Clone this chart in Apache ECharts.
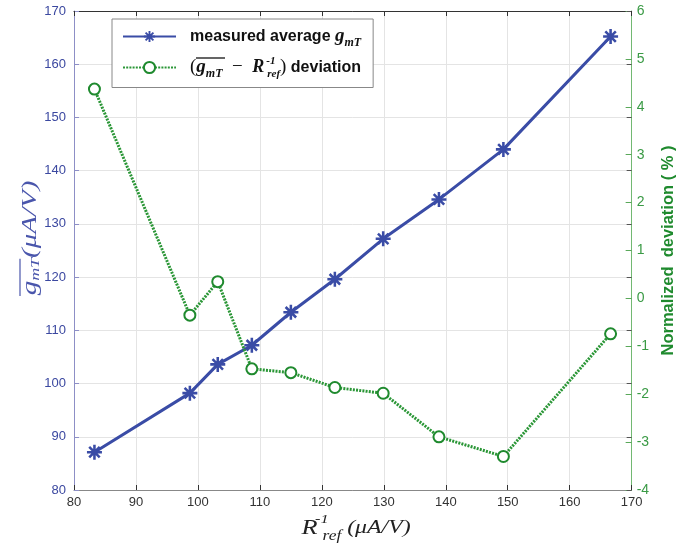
<!DOCTYPE html>
<html>
<head>
<meta charset="utf-8">
<script src="https://cdn.jsdelivr.net/npm/echarts@6/dist/echarts.min.js"></script>
<style>html,body{margin:0;padding:0;background:#fff}#c{width:685px;height:550px}</style>
</head>
<body>
<div id="c"></div>
<script>
// Data
const rRef = [83.3, 98.7, 103.2, 108.7, 115.0, 122.1, 129.9, 138.9, 149.3, 166.6];
const gmTAvg = [87.1, 98.2, 103.6, 107.2, 113.4, 119.6, 127.2, 134.6, 144.0, 165.2];
const deviation = [4.37, -0.35, 0.35, -1.47, -1.55, -1.86, -1.98, -2.89, -3.30, -0.74];
const seriesNames = ['measured average gmT', 'gmT - Rref deviation'];

const BLUE = '#3a4ca6';
const GREEN = '#1f8a2e';
const asterisk = 'path://M0 8.3L20 8.3L20 11.7L0 11.7Z M8.3 0L11.7 0L11.7 20L8.3 20Z M4.2 1.8L18.2 15.8L15.8 18.2L1.8 4.2Z M15.8 1.8L18.2 4.2L4.2 18.2L1.8 15.8Z';

const chart = echarts.init(document.getElementById('c'));
const serifI = 'Liberation Serif';
chart.setOption({
  animation: false,
  grid: { left: 74, right: 48, top: 11, bottom: 60 },
  xAxis: [{
    type: 'value', min: 80, max: 170, interval: 10, position: 'bottom',
    axisLine: { onZero: false, lineStyle: { color: '#888', width: 1 } },
    axisTick: { inside: true, length: 5, lineStyle: { color: '#333' } },
    axisLabel: { color: '#333', fontSize: 13, fontFamily: 'Liberation Sans', margin: 6 },
    splitLine: { show: true, lineStyle: { color: '#e4e4e4', width: 1 } }
  }, {
    type: 'value', min: 80, max: 170, interval: 10, position: 'top',
    axisLine: { onZero: false, lineStyle: { color: '#333', width: 1 } },
    axisTick: { inside: true, length: 5, lineStyle: { color: '#333' } },
    axisLabel: { show: false }, splitLine: { show: false }
  }],
  yAxis: [{
    type: 'value', min: 80, max: 170, interval: 10, position: 'left',
    axisLine: { show: true, onZero: false, lineStyle: { color: '#8d8fc6', width: 1 } },
    axisTick: { show: true, inside: true, length: 5, lineStyle: { color: '#8d8fc6' } },
    axisLabel: { color: '#3b48a0', fontSize: 13, fontFamily: 'Liberation Sans', margin: 8 },
    splitLine: { show: true, lineStyle: { color: '#e4e4e4', width: 1 } }
  }, {
    type: 'value', min: -4, max: 6, interval: 1, position: 'right',
    axisLine: { show: true, onZero: false, lineStyle: { color: '#72b872', width: 1 } },
    axisTick: { show: true, inside: true, length: 6, lineStyle: { color: '#5aa85a' } },
    axisLabel: { color: '#3a9a45', fontSize: 14, fontFamily: 'Liberation Sans', margin: 5 },
    splitLine: { show: false },
    name: 'Normalized  deviation ( % )', nameLocation: 'middle', nameGap: 24, nameRotate: 90,
    nameTextStyle: { color: GREEN, fontSize: 16.5, fontWeight: 'bold', fontFamily: 'Liberation Sans' }
  }, {
    type: 'value', min: 80, max: 170, interval: 10, position: 'right',
    axisLine: { show: false, onZero: false },
    axisTick: { show: true, inside: true, length: 5, lineStyle: { color: '#555' } },
    axisLabel: { show: false }, splitLine: { show: false }
  }],
  legend: {
    orient: 'vertical', left: 112, top: 19,
    padding: [8, 12, 8, 10], itemGap: 7,
    itemWidth: 53, itemHeight: 14,
    backgroundColor: '#fff', borderColor: '#888', borderWidth: 1, borderRadius: 0,
    data: seriesNames,
    formatter: function (name) {
      if (name === seriesNames[0]) return '{b|measured average }{gi|g}{sub|mT}';
      return '{p|(}{gi|g}{sub|mT}{p|  \u2212  }{ri|R}{sup|-1}{sub2|ref}{p|)}{b| deviation}';
    },
    textStyle: {
      padding: [0, 0, 0, 9],
      rich: {
        b: { fontFamily: 'Liberation Sans', fontWeight: 'bold', fontSize: 16, color: '#111', lineHeight: 24, verticalAlign: 'middle' },
        p: { fontFamily: serifI, fontSize: 19, color: '#111', lineHeight: 24, verticalAlign: 'middle' },
        gi: { fontFamily: serifI, fontStyle: 'italic', fontWeight: 'bold', fontSize: 19, color: '#111', lineHeight: 24, verticalAlign: 'middle' },
        ri: { fontFamily: serifI, fontStyle: 'italic', fontWeight: 'bold', fontSize: 18, color: '#111', lineHeight: 24, verticalAlign: 'middle' },
        sub: { fontFamily: serifI, fontStyle: 'italic', fontWeight: 'bold', fontSize: 12, color: '#111', verticalAlign: 'bottom', lineHeight: 14 },
        sup: { fontFamily: serifI, fontStyle: 'italic', fontWeight: 'bold', fontSize: 11, color: '#111', verticalAlign: 'top', lineHeight: 12, width: 1, align: 'left', padding: [0, 0, 0, 2] },
        sub2: { fontFamily: serifI, fontStyle: 'italic', fontWeight: 'bold', fontSize: 11, color: '#111', verticalAlign: 'bottom', lineHeight: 12 }
      }
    }
  },
  series: [{
    name: seriesNames[0], type: 'line', xAxisIndex: 0, yAxisIndex: 0,
    data: rRef.map((x, i) => [x, gmTAvg[i]]),
    symbol: asterisk, symbolSize: 15,
    lineStyle: { color: BLUE, width: 3 },
    itemStyle: { color: BLUE }
  }, {
    name: seriesNames[1], type: 'line', xAxisIndex: 0, yAxisIndex: 1,
    data: rRef.map((x, i) => [x, deviation[i]]),
    symbol: 'emptyCircle', symbolSize: 11,
    lineStyle: { color: '#2a9636', width: 3, type: [2, 1.2] },
    itemStyle: { color: GREEN, borderColor: GREEN, borderWidth: 2.6 }
  }],
  graphic: [{
    type: 'group', x: 30, y: 238, rotation: Math.PI / 2, scaleX: 1.38,
    children: [{
      type: 'text', x: 0, y: 0,
      style: {
        text: '{g|g}{s|mT}{u|(\u03bcA/V)}',
        align: 'center', verticalAlign: 'middle',
        rich: {
          g: { fontFamily: serifI, fontStyle: 'italic', fontSize: 21, fill: '#4a56ac', verticalAlign: 'middle', lineHeight: 24 },
          s: { fontFamily: serifI, fontStyle: 'italic', fontSize: 13, fill: '#4a56ac', verticalAlign: 'bottom', lineHeight: 14 },
          u: { fontFamily: serifI, fontStyle: 'italic', fontSize: 21, fill: '#4a56ac', verticalAlign: 'middle', lineHeight: 24 }
        }
      }
    }, {
      type: 'line', shape: { x1: -42, y1: -10, x2: -15, y2: -10 },
      style: { stroke: '#4a56ac', lineWidth: 1.2 }
    }]
  }, {
    type: 'line', shape: { x1: 196, y1: 58, x2: 225, y2: 58 },
    style: { stroke: '#111', lineWidth: 1.3 }, z: 100
  }, {
    type: 'group', x: 356, y: 528, scaleX: 1.25,
    children: [{
      type: 'text', x: 0, y: 0,
      style: {
        text: '{r|R}{sup|-1}{sub|ref}{u| (\u03bcA/V)}',
        align: 'center', verticalAlign: 'middle',
        rich: {
          r: { fontFamily: serifI, fontStyle: 'italic', fontSize: 21, fill: '#222', verticalAlign: 'middle', lineHeight: 30 },
          sup: { fontFamily: serifI, fontStyle: 'italic', fontSize: 13, fill: '#222', verticalAlign: 'top', lineHeight: 14, width: 1, align: 'left', padding: [0, 0, 0, 3] },
          sub: { fontFamily: serifI, fontStyle: 'italic', fontSize: 14, fill: '#222', verticalAlign: 'bottom', lineHeight: 12 },
          u: { fontFamily: serifI, fontStyle: 'italic', fontSize: 19, fill: '#222', verticalAlign: 'middle', lineHeight: 30 }
        }
      }
    }]
  }]
});
</script>
</body>
</html>
